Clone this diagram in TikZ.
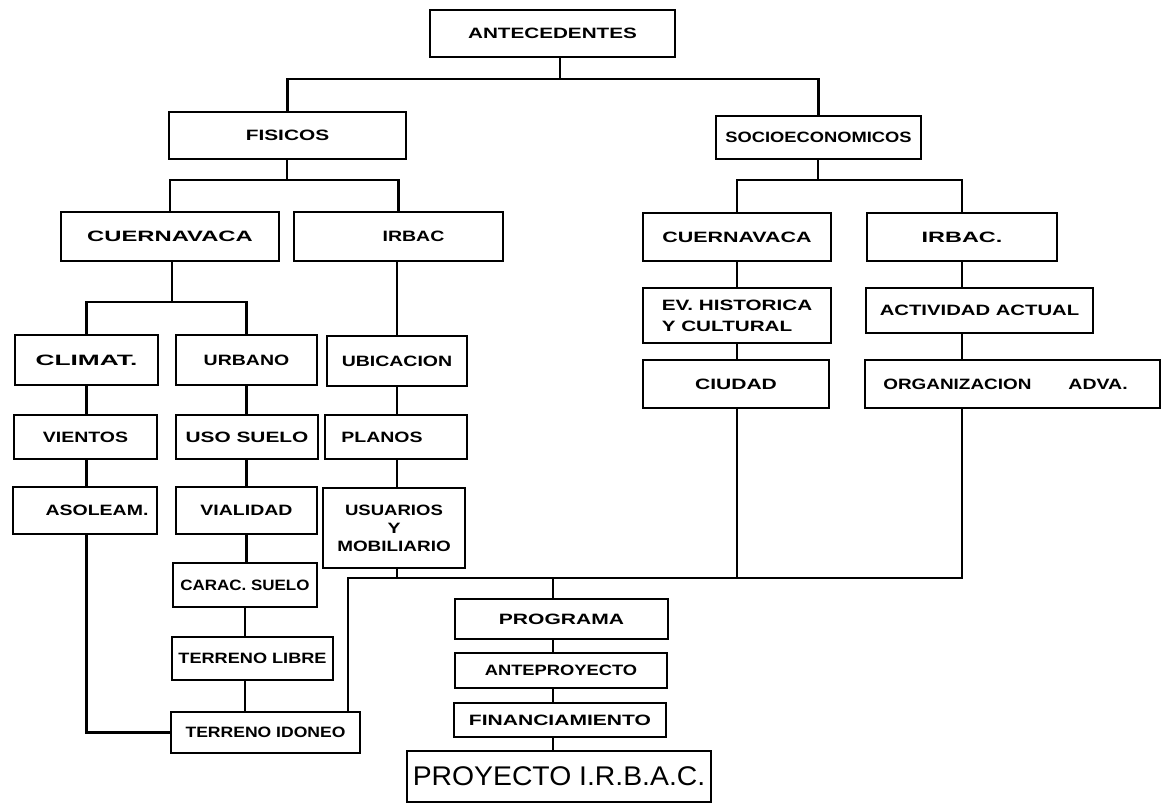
\documentclass[tikz,border=0pt]{standalone}
\usepackage{graphicx}
\usepackage{fontspec}
\setmainfont{Liberation Sans}[FakeStretch=1.3]
\newfontfamily\bigfont{Liberation Sans}[FakeStretch=1.05]
\newcommand\sx[2]{\scalebox{#1}[1]{#2}}
\begin{document}
\begin{tikzpicture}[x=1pt,y=-1pt,
  box/.style={draw, line width=1.6pt, inner sep=0pt, align=center,
              font=\fontsize{15}{18}\selectfont\bfseries},
  conn/.style={line width=2.4pt}]
\useasboundingbox (0,0) rectangle (1162,805);

% boxes
\node[box,minimum width=245,minimum height=47] (ant) at (552.5,33.5) {\sx{1.06}{ANTECEDENTES}};
\node[box,minimum width=237,minimum height=47] (fis) at (287.5,135.5) {\sx{1.07}{FISICOS}};
\node[box,minimum width=205,minimum height=43] (soc) at (818.5,137.5) {\sx{0.94}{SOCIOECONOMICOS}};
\node[box,minimum width=218,minimum height=49] (cuL) at (170,236.5) {\sx{1.22}{CUERNAVACA}};
\node[box,minimum width=209,minimum height=49] (irL) at (398.5,236.5) {\hspace*{30pt}IRBAC};
\node[box,minimum width=188,minimum height=48] (cuR) at (737,237) {\sx{1.1}{CUERNAVACA}};
\node[box,minimum width=190,minimum height=48] (irR) at (962,237) {\sx{1.2}{IRBAC.}};
\node[box,minimum width=143,minimum height=50] (cli) at (86.5,360) {\sx{1.35}{CLIMAT.}};
\node[box,minimum width=141,minimum height=50] (urb) at (246.5,360) {URBANO};
\node[box,minimum width=140,minimum height=50] (ubi) at (397,361) {UBICACION};
\node[box,minimum width=143,minimum height=44] (vie) at (85.5,437) {VIENTOS};
\node[box,minimum width=142,minimum height=44] (uso) at (247,437) {\sx{1.07}{USO SUELO}};
\node[box,minimum width=142,minimum height=44] (pla) at (396,437) {PLANOS\hspace*{28pt}};
\node[box,minimum width=144,minimum height=47] (aso) at (85,510.5) {\hspace*{24pt}ASOLEAM.};
\node[box,minimum width=141,minimum height=47] (via) at (246.5,510.5) {VIALIDAD};
\node[box,minimum width=142,minimum height=80] (usu) at (394,528) {\sx{0.95}{USUARIOS}\\Y\\\sx{0.97}{MOBILIARIO}};
\node[box,minimum width=144,minimum height=44] (car) at (245,585) {\sx{0.87}{CARAC. SUELO}};
\node[box,minimum width=161,minimum height=43] (lib) at (252.5,658.5) {\sx{0.93}{TERRENO LIBRE}};
\node[box,minimum width=189,minimum height=41] (ido) at (265.5,732.5) {\sx{0.9}{TERRENO IDONEO}};
\node[box,minimum width=188,minimum height=55,align=left,
      font={\fontsize{15}{21}\selectfont\bfseries}] (ev) at (737,315.5) {\sx{1.06}{EV. HISTORICA}\\\sx{1.06}{Y CULTURAL}};
\node[box,minimum width=186,minimum height=48] (ciu) at (736,384) {\sx{1.08}{CIUDAD}};
\node[box,minimum width=227,minimum height=45] (act) at (979.5,310.5) {\sx{1.04}{ACTIVIDAD ACTUAL}};
\node[box,minimum width=295,minimum height=48] (org) at (1012.5,384) {\sx{0.97}{ORGANIZACION}\hspace{37pt}ADVA.\hspace*{14pt}};
\node[box,minimum width=213,minimum height=40] (prog) at (561.5,619) {\sx{1.08}{PROGRAMA}};
\node[box,minimum width=212,minimum height=35] (ante) at (561,670.5) {\sx{0.94}{ANTEPROYECTO}};
\node[box,minimum width=212,minimum height=34] (fin) at (560,720) {\sx{1.08}{FINANCIAMIENTO}};
\node[box,minimum width=304,minimum height=51,
      font=\bigfont\fontsize{27}{32}\selectfont] (proy) at (559,776.5) {PROYECTO I.R.B.A.C.};

% junction coordinates
\coordinate (jA) at (560,79);
\coordinate (jB) at (287,180);
\coordinate (jC) at (818,180);
\coordinate (jD) at (172,302);
\coordinate (cL) at (348,578);
\coordinate (cR) at (962,578);
\coordinate (cP) at (553,578);

% top levels
\draw[conn] (ant.south -| jA) -- (jA);
\draw[conn] (fis.north) |- (jA) -| (soc.north);
\draw[conn] (fis.south -| jB) -- (jB);
\draw[conn] (cuL.north) |- (jB) -| (irL.north);
\draw[conn] (soc.south -| jC) -- (jC);
\draw[conn] (cuR.north) |- (jC) -| (irR.north);
\draw[conn] (cuL.south -| jD) -- (jD);
\draw[conn] (cli.north) |- (jD) -| (urb.north);
\draw[conn] (irL.south -| ubi.north) -- (ubi.north);

% left column
\draw[conn] (cli.south) -- (cli.south |- vie.north);
\draw[conn] (vie.south -| cli.south) -- (cli.south |- aso.north);
\draw[conn] (aso.south -| cli.south) |- (ido.west);

% middle column
\draw[conn] (urb.south) -- (urb.south |- uso.north);
\draw[conn] (uso.south -| urb.south) -- (urb.south |- via.north);
\draw[conn] (via.south -| urb.south) -- (urb.south |- car.north);
\draw[conn] (car.south) -- (car.south |- lib.north);
\draw[conn] (lib.south -| car.south) -- (car.south |- ido.north);

% IRBAC column
\draw[conn] (ubi.south) -- (ubi.south |- pla.north);
\draw[conn] (pla.south -| ubi.south) -- (ubi.south |- usu.north);

% right side
\draw[conn] (cuR.south) -- (cuR.south |- ev.north);
\draw[conn] (ev.south -| cuR.south) -- (cuR.south |- ciu.north);
\draw[conn] (irR.south) -- (irR.south |- act.north);
\draw[conn] (act.south -| irR.south) -- (irR.south |- org.north);

% collector
\draw[conn] (ido.north -| cL) -- (cL) -- (cR) -- (cR |- org.south);
\draw[conn] (usu.south -| ubi.south) -- (ubi.south |- cL);
\draw[conn] (ciu.south -| cuR.south) -- (cuR.south |- cL);
\draw[conn] (cP) -- (cP |- prog.north);
\draw[conn] (prog.south -| cP) -- (cP |- ante.north);
\draw[conn] (ante.south -| cP) -- (cP |- fin.north);
\draw[conn] (fin.south -| cP) -- (cP |- proy.north);
\end{tikzpicture}
\end{document}
